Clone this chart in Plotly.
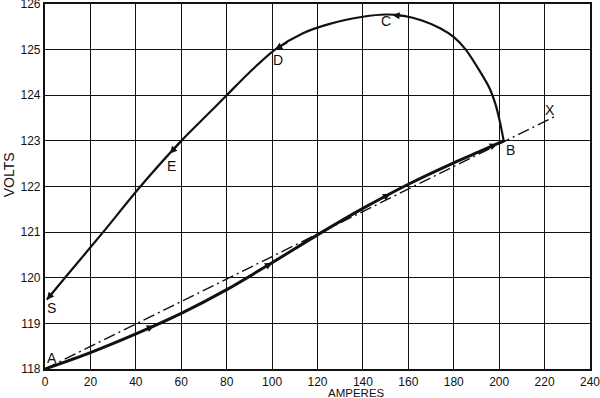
import numpy as np
import plotly.graph_objects as go

# ---- data ----
# Rising characteristic A -> B (amperes, volts)
rise_amps = [0, 20, 40, 60, 80, 100, 120, 140, 160, 180, 192, 202]
rise_volts = [118.0, 118.36, 118.77, 119.22, 119.74, 120.33, 120.94, 121.52, 122.05, 122.52, 122.78, 123.0]

# Return path B -> C -> D -> E -> S
ret_amps = [202, 200.4, 198.4, 195.8, 191.2, 185.3, 180.2, 174, 166, 158, 150, 140, 125, 113.6, 101.3, 90, 80, 70, 60, 42, 25.6, 8.8, 0.8]
ret_volts = [123.0, 123.4, 123.8, 124.15, 124.55, 125.0, 125.27, 125.47, 125.64, 125.74, 125.77, 125.72, 125.56, 125.36, 125.0, 124.5, 124.0, 123.5, 123.0, 122.0, 121.0, 120.0, 119.52]

# Straight reference line A -> X
line_amps = [0, 224.7]
line_volts = [118.0, 123.54]

x_ticks = list(range(0, 241, 20))
y_ticks = list(range(118, 127))

FONT = "Liberation Sans"
INK = "#111111"

fig = go.Figure()

fig.add_trace(go.Scatter(x=line_amps, y=line_volts, mode="lines",
                         line=dict(color=INK, width=1.4, dash="12px,4px,2px,4px"),
                         hoverinfo="skip", showlegend=False))
fig.add_trace(go.Scatter(x=rise_amps, y=rise_volts, mode="lines",
                         line=dict(color=INK, width=3, shape="spline", smoothing=0.8),
                         hoverinfo="skip", showlegend=False))
fig.add_trace(go.Scatter(x=ret_amps, y=ret_volts, mode="lines",
                         line=dict(color=INK, width=2.2, shape="spline", smoothing=0.8),
                         hoverinfo="skip", showlegend=False))

ann = []

def arrow_on(xs, ys, x_tip, back):
    xs = np.asarray(xs, float); ys = np.asarray(ys, float)
    order = np.argsort(xs)
    xo, yo = xs[order], ys[order]
    y_tip = float(np.interp(x_tip, xo, yo))
    x_tail = x_tip - back
    y_tail = float(np.interp(x_tail, xo, yo))
    ann.append(dict(x=x_tip, y=y_tip, ax=x_tail, ay=y_tail, xref="x", yref="y",
                    axref="x", ayref="y", showarrow=True, arrowhead=2,
                    arrowsize=0.9, arrowwidth=1.6, arrowcolor=INK, text=""))

# arrows on the rising curve (travel to the right)
for xt in [48, 100, 152, 199]:
    arrow_on(rise_amps, rise_volts, xt, 6)
# arrows on the return path (travel to the left)
for xt in [153, 101.3, 55, ret_amps[-1]]:
    arrow_on(ret_amps, ret_volts, xt, -6)

def label(txt, x, y, dx, dy):
    ann.append(dict(x=x, y=y, xref="x", yref="y", text=txt, showarrow=False,
                    xshift=dx, yshift=dy, font=dict(family=FONT, size=14, color=INK)))

label("A", rise_amps[0], rise_volts[0], 7, 11)
label("B", rise_amps[-1], rise_volts[-1], 7, -9)
label("C", 153, 125.77, -6, -7)
label("D", 101.3, 125.0, 3, -10)
label("E", 55, 122.6, 2, -7)
label("S", ret_amps[-1], ret_volts[-1], 5, -8)
label("X", line_amps[-1], line_volts[-1], -5, 6)

ann.append(dict(x=-0.066, y=0.531, xref="paper", yref="paper", text="VOLTS",
                showarrow=False, textangle=-90, xanchor="center", yanchor="middle",
                font=dict(family=FONT, size=14, color=INK)))
ann.append(dict(x=0.572, y=-0.066, xref="paper", yref="paper", text="AMPERES",
                showarrow=False, xanchor="center", yanchor="middle",
                font=dict(family=FONT, size=11.5, color=INK)))

axis_common = dict(showgrid=True, gridcolor=INK, gridwidth=1.3, zeroline=False,
                   showline=True, linecolor=INK, linewidth=2.2, mirror=True,
                   automargin=False, ticks="", ticklabelstandoff=0,
                   ticklabeloverflow="allow",
                   tickfont=dict(family=FONT, size=12, color=INK))

fig.update_layout(
    width=600, height=398,
    margin=dict(l=45, r=10, t=4, b=29, autoexpand=False),
    paper_bgcolor="white", plot_bgcolor="white",
    annotations=ann,
    xaxis=dict(range=[0, 240], tickvals=x_ticks, ticktext=[str(v) for v in x_ticks], **axis_common),
    yaxis=dict(range=[118, 126], tickvals=y_ticks, ticktext=[str(v) for v in y_ticks], **axis_common),
)

fig.write_html("out.html", config={"displayModeBar": False},
               post_script="document.body.style.margin='0px';document.body.style.overflow='hidden';")
